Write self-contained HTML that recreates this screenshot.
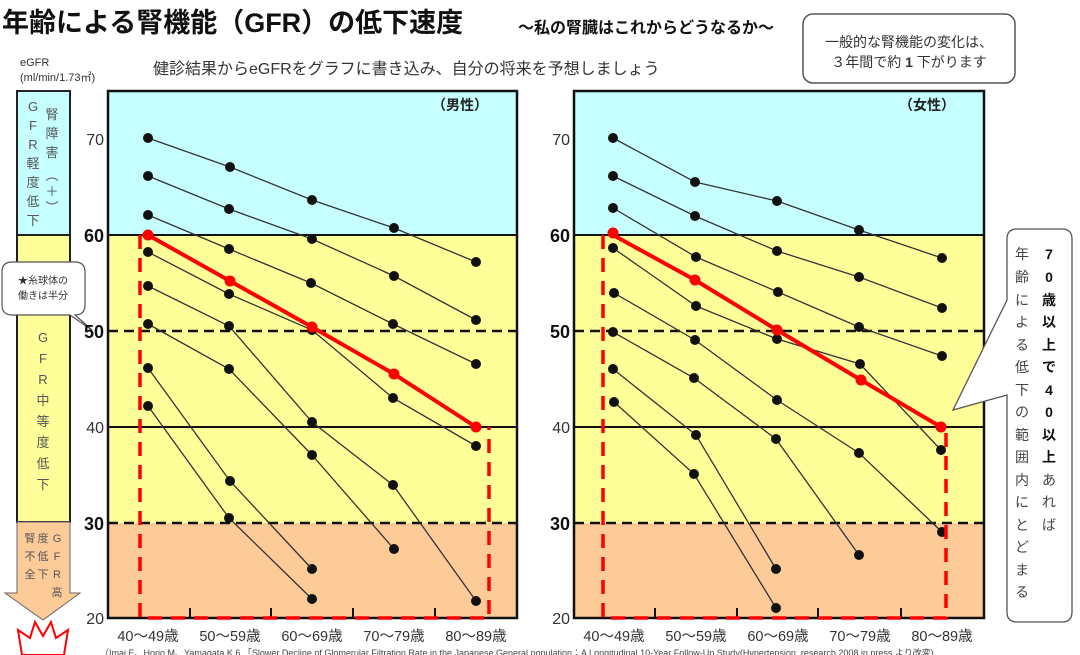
<!DOCTYPE html>
<html><head><meta charset="utf-8"><style>
body{margin:0;background:#fff;}
svg{display:block;font-family:"Liberation Sans","Noto Sans CJK JP",sans-serif;}
</style></head><body>
<svg width="1080" height="655" viewBox="0 0 1080 655" xmlns="http://www.w3.org/2000/svg">
<text x="2" y="32" font-size="27" font-weight="bold" fill="#111">年齢による腎機能（GFR）の低下速度</text>
<text x="518" y="33" font-size="16" font-weight="bold" fill="#111">～私の腎臓はこれからどうなるか～</text>
<text x="20" y="66" font-size="11" fill="#333">eGFR</text>
<text x="20" y="81" font-size="11" fill="#333">(ml/min/1.73㎡)</text>
<text x="153" y="74" font-size="16" fill="#333">健診結果からeGFRをグラフに書き込み、自分の将来を予想しましょう</text>
<rect x="803" y="14" width="212" height="69" rx="10" fill="#fff" stroke="#555" stroke-width="1.5"/>
<text x="909" y="47" font-size="14" fill="#333" text-anchor="middle">一般的な腎機能の変化は、</text>
<text x="909" y="67" font-size="14" fill="#333" text-anchor="middle">３年間で約 <tspan font-weight="bold">1</tspan> 下がります</text>

<rect x="17" y="91" width="53" height="144" fill="#c6ffff" stroke="#222" stroke-width="2"/>
<rect x="17" y="235" width="53" height="287" fill="#ffff99" stroke="#222" stroke-width="2"/>
<polygon points="17,522 70,522 70,593 80,593 43,620 5,593 17,593" fill="#fccb98" stroke="#666" stroke-width="1"/>
<g font-size="13" fill="#555" text-anchor="middle">
<text x="33" y="111">G</text><text x="33" y="130">F</text><text x="33" y="149">R</text><text x="33" y="168">軽</text><text x="33" y="187">度</text><text x="33" y="206">低</text><text x="33" y="225">下</text>
<text x="52" y="119">腎</text><text x="52" y="138">障</text><text x="52" y="157">害</text><text x="52" y="180">︵</text><text x="52" y="196">＋</text><text x="52" y="212">︶</text>
<text x="43" y="342">G</text><text x="43" y="363">F</text><text x="43" y="384">R</text><text x="43" y="405">中</text><text x="43" y="426">等</text><text x="43" y="447">度</text><text x="43" y="468">低</text><text x="43" y="489">下</text>
<text x="30" y="542" font-size="11">腎</text><text x="30" y="560" font-size="11">不</text><text x="30" y="578" font-size="11">全</text>
<text x="43" y="542" font-size="11">度</text><text x="43" y="560" font-size="11">低</text><text x="43" y="578" font-size="11">下</text>
<text x="57" y="542" font-size="11">G</text><text x="57" y="560" font-size="11">F</text><text x="57" y="578" font-size="11">R</text><text x="57" y="596" font-size="11">高</text>
</g>
<polygon points="22,655 18,630 30,638 35,622 43,636 51,622 56,638 68,630 64,655" fill="#fff" stroke="#f00" stroke-width="2"/>

<path d="M12,262 H75 Q85,262 85,272 V305 Q85,315 75,315 L92,330 L70,315 H12 Q2,315 2,305 V272 Q2,262 12,262 Z" fill="#fff" stroke="#555" stroke-width="1.2"/>
<text x="43" y="284" font-size="10" fill="#333" text-anchor="middle">★糸球体の</text>
<text x="43" y="299" font-size="10" fill="#333" text-anchor="middle">働きは半分</text>

<g id="L">
<rect x="108" y="91" width="409" height="144" fill="#c6ffff"/>
<rect x="108" y="235" width="409" height="288" fill="#ffff99"/>
<rect x="108" y="523" width="409" height="95" fill="#fccb98"/>
<line x1="108" y1="235" x2="517" y2="235" stroke="#111" stroke-width="2"/>
<line x1="108" y1="427" x2="517" y2="427" stroke="#111" stroke-width="2"/>
<line x1="108" y1="331" x2="517" y2="331" stroke="#111" stroke-width="2.5" stroke-dasharray="10,6"/>
<line x1="108" y1="523" x2="517" y2="523" stroke="#111" stroke-width="2.5" stroke-dasharray="10,6"/>
<rect x="108" y="91" width="409" height="527" fill="none" stroke="#111" stroke-width="2.5"/>
<g stroke="#111" stroke-width="2"><line x1="190" y1="618" x2="190" y2="608"/><line x1="271" y1="618" x2="271" y2="608"/><line x1="353" y1="618" x2="353" y2="608"/><line x1="435" y1="618" x2="435" y2="608"/></g>
<g fill="none" stroke="#333" stroke-width="1.3">
<polyline points="148,138 230,167 312,200 394,228 476,262"/>
<polyline points="148,176 229,209 312,239 394,276 476,320"/>
<polyline points="148,215 229,249 311,283 393,324 476,364"/>
<polyline points="148,252 229,294 312,330 393,398 476,446"/>
<polyline points="148,286 229,326 312,422 393,485 476,601"/>
<polyline points="148,324 229,369 312,455 394,549"/>
<polyline points="148,368 230,481 312,569"/>
<polyline points="148,406 229,518 312,599"/>
</g>
<g fill="#111">
<circle cx="148" cy="138" r="5"/><circle cx="230" cy="167" r="5"/><circle cx="312" cy="200" r="5"/><circle cx="394" cy="228" r="5"/><circle cx="476" cy="262" r="5"/>
<circle cx="148" cy="176" r="5"/><circle cx="229" cy="209" r="5"/><circle cx="312" cy="239" r="5"/><circle cx="394" cy="276" r="5"/><circle cx="476" cy="320" r="5"/>
<circle cx="148" cy="215" r="5"/><circle cx="229" cy="249" r="5"/><circle cx="311" cy="283" r="5"/><circle cx="393" cy="324" r="5"/><circle cx="476" cy="364" r="5"/>
<circle cx="148" cy="252" r="5"/><circle cx="229" cy="294" r="5"/><circle cx="312" cy="330" r="5"/><circle cx="393" cy="398" r="5"/><circle cx="476" cy="446" r="5"/>
<circle cx="148" cy="286" r="5"/><circle cx="229" cy="326" r="5"/><circle cx="312" cy="422" r="5"/><circle cx="393" cy="485" r="5"/><circle cx="476" cy="601" r="5"/>
<circle cx="148" cy="324" r="5"/><circle cx="229" cy="369" r="5"/><circle cx="312" cy="455" r="5"/><circle cx="394" cy="549" r="5"/>
<circle cx="148" cy="368" r="5"/><circle cx="230" cy="481" r="5"/><circle cx="312" cy="569" r="5"/>
<circle cx="148" cy="406" r="5"/><circle cx="229" cy="518" r="5"/><circle cx="312" cy="599" r="5"/>
</g>
<path d="M140,235 V618 H489 V427" fill="none" stroke="#f00" stroke-width="3.5" stroke-dasharray="14,9"/>
<polyline points="148,235 230,281 312,327 394,374 476,427" fill="none" stroke="#f00" stroke-width="4"/>
<g fill="#f00"><circle cx="148" cy="235" r="5.5"/><circle cx="230" cy="281" r="5.5"/><circle cx="312" cy="327" r="5.5"/><circle cx="394" cy="374" r="5.5"/><circle cx="476" cy="427" r="5.5"/></g>
<text x="488" y="110" font-size="14" font-weight="bold" fill="#222" text-anchor="end">（男性）</text>
<g text-anchor="end" fill="#333">
<text x="104" y="145" font-size="16">70</text>
<text x="104" y="242" font-size="18" font-weight="bold" fill="#111">60</text>
<text x="104" y="338" font-size="18" font-weight="bold" fill="#111">50</text>
<text x="104" y="433" font-size="16">40</text>
<text x="104" y="530" font-size="18" font-weight="bold" fill="#111">30</text>
<text x="104" y="624" font-size="16">20</text>
</g>
<g font-size="14.5" fill="#333" text-anchor="middle">
<text x="148" y="641">40～49歳</text><text x="230" y="641">50～59歳</text><text x="312" y="641">60～69歳</text><text x="394" y="641">70～79歳</text><text x="476" y="641">80～89歳</text>
</g>
</g>
<g id="R">
<rect x="574" y="91" width="410" height="144" fill="#c6ffff"/>
<rect x="574" y="235" width="410" height="288" fill="#ffff99"/>
<rect x="574" y="523" width="410" height="95" fill="#fccb98"/>
<line x1="574" y1="235" x2="984" y2="235" stroke="#111" stroke-width="2"/>
<line x1="574" y1="427" x2="984" y2="427" stroke="#111" stroke-width="2"/>
<line x1="574" y1="331" x2="984" y2="331" stroke="#111" stroke-width="2.5" stroke-dasharray="10,6"/>
<line x1="574" y1="523" x2="984" y2="523" stroke="#111" stroke-width="2.5" stroke-dasharray="10,6"/>
<rect x="574" y="91" width="410" height="527" fill="none" stroke="#111" stroke-width="2.5"/>
<g stroke="#111" stroke-width="2"><line x1="655" y1="618" x2="655" y2="608"/><line x1="737" y1="618" x2="737" y2="608"/><line x1="818" y1="618" x2="818" y2="608"/><line x1="901" y1="618" x2="901" y2="608"/></g>
<g fill="none" stroke="#333" stroke-width="1.3">
<polyline points="613,138 695,182 777,201 859,230 942,258"/>
<polyline points="613,176 695,216 777,251 859,277 942,308"/>
<polyline points="613,208 696,257 778,292 859,327 942,356"/>
<polyline points="613,248 696,306 777,339 860,364 941,450"/>
<polyline points="614,293 695,340 777,400 859,453 942,532"/>
<polyline points="613,332 694,378 776,439 859,555"/>
<polyline points="613,369 696,435 776,569"/>
<polyline points="614,402 694,474 776,608"/>
</g>
<g fill="#111">
<circle cx="613" cy="138" r="5"/><circle cx="695" cy="182" r="5"/><circle cx="777" cy="201" r="5"/><circle cx="859" cy="230" r="5"/><circle cx="942" cy="258" r="5"/>
<circle cx="613" cy="176" r="5"/><circle cx="695" cy="216" r="5"/><circle cx="777" cy="251" r="5"/><circle cx="859" cy="277" r="5"/><circle cx="942" cy="308" r="5"/>
<circle cx="613" cy="208" r="5"/><circle cx="696" cy="257" r="5"/><circle cx="778" cy="292" r="5"/><circle cx="859" cy="327" r="5"/><circle cx="942" cy="356" r="5"/>
<circle cx="613" cy="248" r="5"/><circle cx="696" cy="306" r="5"/><circle cx="777" cy="339" r="5"/><circle cx="860" cy="364" r="5"/><circle cx="941" cy="450" r="5"/>
<circle cx="614" cy="293" r="5"/><circle cx="695" cy="340" r="5"/><circle cx="777" cy="400" r="5"/><circle cx="859" cy="453" r="5"/><circle cx="942" cy="532" r="5"/>
<circle cx="613" cy="332" r="5"/><circle cx="694" cy="378" r="5"/><circle cx="776" cy="439" r="5"/><circle cx="859" cy="555" r="5"/>
<circle cx="613" cy="369" r="5"/><circle cx="696" cy="435" r="5"/><circle cx="776" cy="569" r="5"/>
<circle cx="614" cy="402" r="5"/><circle cx="694" cy="474" r="5"/><circle cx="776" cy="608" r="5"/>
</g>
<path d="M603,235 V618 H946 V427" fill="none" stroke="#f00" stroke-width="3.5" stroke-dasharray="14,9"/>
<polyline points="613,235 695,280 777,330 861,380 941,427" fill="none" stroke="#f00" stroke-width="4"/>
<g fill="#f00"><circle cx="613" cy="233" r="5.5"/><circle cx="695" cy="280" r="5.5"/><circle cx="777" cy="330" r="5.5"/><circle cx="861" cy="380" r="5.5"/><circle cx="941" cy="427" r="5.5"/></g>
<text x="955" y="110" font-size="14" font-weight="bold" fill="#222" text-anchor="end">（女性）</text>
<g text-anchor="end" fill="#333">
<text x="570" y="145" font-size="16">70</text>
<text x="570" y="242" font-size="18" font-weight="bold" fill="#111">60</text>
<text x="570" y="338" font-size="18" font-weight="bold" fill="#111">50</text>
<text x="570" y="433" font-size="16">40</text>
<text x="570" y="530" font-size="18" font-weight="bold" fill="#111">30</text>
<text x="570" y="624" font-size="16">20</text>
</g>
<g font-size="14.5" fill="#333" text-anchor="middle">
<text x="614" y="641">40～49歳</text><text x="696" y="641">50～59歳</text><text x="778" y="641">60～69歳</text><text x="860" y="641">70～79歳</text><text x="942" y="641">80～89歳</text>
</g>
</g>

<path d="M1017,229 H1062 Q1072,229 1072,239 V612 Q1072,622 1062,622 H1017 Q1007,622 1007,612 V395 L953,410 L1007,300 V239 Q1007,229 1017,229 Z" fill="#fff" stroke="#555" stroke-width="1.3"/>
<g font-size="14" fill="#444" text-anchor="middle">
<text x="1022" y="259">年</text><text x="1022" y="282">齢</text><text x="1022" y="305">に</text><text x="1022" y="327">よ</text><text x="1022" y="350">る</text><text x="1022" y="372">低</text><text x="1022" y="395">下</text><text x="1022" y="417">の</text><text x="1022" y="440">範</text><text x="1022" y="462">囲</text><text x="1022" y="485">内</text><text x="1022" y="507">に</text><text x="1022" y="530">と</text><text x="1022" y="552">ど</text><text x="1022" y="575">ま</text><text x="1022" y="597">る</text>
</g>
<g font-size="14" fill="#111" font-weight="bold" text-anchor="middle">
<text x="1049" y="259">7</text><text x="1049" y="282">0</text><text x="1049" y="305">歳</text><text x="1049" y="327">以</text><text x="1049" y="350">上</text><text x="1049" y="372">で</text><text x="1049" y="395">4</text><text x="1049" y="417">0</text><text x="1049" y="440">以</text><text x="1049" y="462">上</text>
<text x="1049" y="485" font-weight="normal" fill="#444">あ</text><text x="1049" y="507" font-weight="normal" fill="#444">れ</text><text x="1049" y="530" font-weight="normal" fill="#444">ば</text>
</g>
<text x="100" y="656" font-size="9" fill="#444">（Imai E、Horio M、Yamagata K 6.「Slower Decline of Glomerular Filtration Rate in the Japanese General population：A Longitudinal 10-Year Follow-Up Study(Hypertension. research 2008 in press より改変)</text>
</svg>
</body></html>
